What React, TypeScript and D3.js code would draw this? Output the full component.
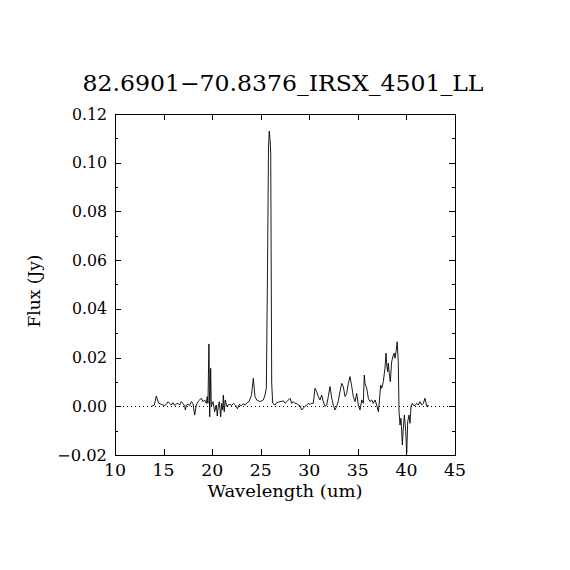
import { useRef, useEffect } from 'react'
import * as d3 from 'd3'

const title = '82.6901\u221270.8376_IRSX_4501_LL'
const xLabel = 'Wavelength (um)'
const yLabel = 'Flux (Jy)'

const xTicks = [10, 15, 20, 25, 30, 35, 40, 45]
const yTicks = [-0.02, 0, 0.02, 0.04, 0.06, 0.08, 0.1, 0.12]
const yMinorTicks = [-0.01, 0.01, 0.03, 0.05, 0.07, 0.09, 0.11]

const wavelength = [
  13.74, 14.05, 14.25, 14.5, 14.77, 14.94, 15.11, 15.28, 15.46, 15.63, 15.8, 15.97, 16.15, 16.31, 16.49, 16.66,
  16.83, 17.0, 17.18, 17.24, 17.34, 17.51, 17.69, 17.85, 18.03, 18.2, 18.37, 18.54, 18.72, 18.88, 19.06, 19.23,
  19.4, 19.5, 19.57, 19.67, 19.75, 19.85, 19.91, 20.09, 20.26, 20.43, 20.53, 20.63, 20.74, 20.88, 20.98, 21.09,
  21.15, 21.25, 21.35, 21.5, 21.66, 21.84, 22.01, 22.2, 22.4, 22.6, 22.8, 23.0, 23.2, 23.4, 23.6, 23.8,
  24.05, 24.24, 24.41, 24.59, 24.93, 25.27, 25.44, 25.58, 25.7, 25.8, 25.88, 25.97, 26.03, 26.13, 26.23, 26.47,
  26.65, 26.99, 27.33, 27.5, 27.68, 28.02, 28.19, 28.36, 28.53, 28.71, 28.87, 29.04, 29.22, 29.38, 29.56, 29.73,
  29.9, 30.07, 30.25, 30.41, 30.59, 30.76, 30.93, 31.1, 31.28, 31.44, 31.62, 31.79, 31.96, 32.13, 32.31, 32.47,
  32.65, 32.82, 32.99, 33.16, 33.34, 33.5, 33.68, 33.85, 34.02, 34.19, 34.37, 34.53, 34.71, 34.88, 35.05, 35.22,
  35.4, 35.56, 35.66, 35.74, 35.91, 36.08, 36.25, 36.43, 36.59, 36.77, 36.94, 37.11, 37.18, 37.35, 37.46, 37.62,
  37.79, 37.9, 37.97, 38.07, 38.13, 38.24, 38.34, 38.48, 38.65, 38.75, 38.82, 38.93, 39.05, 39.16, 39.24, 39.34,
  39.44, 39.58, 39.68, 39.79, 39.93, 40.03, 40.13, 40.27, 40.37, 40.47, 40.61, 40.71, 40.88, 41.05, 41.22, 41.4,
  41.57, 41.74, 41.91, 42.09, 42.19, 42.32,
]

const flux = [
  0.0, 0.0005, 0.0042, 0.0012, 0.0008, 0.0005, 0.0003, 0.0008, 0.0019, 0.0012, 0.0005, 0.0015, 0.0003, 0.001, 0.0012, 0.0005,
  0.0019, 0.0012, 0.0, -0.0015, 0.0005, 0.0008, 0.0003, 0.0019, 0.0012, -0.0036, 0.0005, 0.0019, 0.0026, 0.0033, 0.0019, 0.0026,
  0.0012, 0.004, 0.0012, 0.0256, -0.0043, 0.0156, 0.0, 0.0019, -0.0022, 0.0005, -0.004, 0.0, 0.0019, -0.0043, 0.0012, -0.0015,
  0.0046, -0.0022, 0.0026, 0.0, 0.0005, 0.0008, 0.0003, 0.0012, 0.0005, -0.001, 0.0008, 0.0002, 0.001, 0.0005, 0.0015, 0.002,
  0.0045, 0.0115, 0.004, 0.0026, 0.0019, 0.0026, 0.0046, 0.0075, 0.056, 0.106, 0.113, 0.109, 0.104, 0.0096, 0.0013, 0.0005,
  0.0015, 0.0019, 0.0022, 0.0012, 0.0019, 0.0033, 0.0012, 0.0019, 0.0012, 0.0012, 0.0005, 0.0003, -0.0015, -0.0008, 0.0, 0.0005,
  0.0012, 0.0008, 0.0012, 0.0012, 0.0074, 0.006, 0.004, 0.0026, 0.0046, 0.0019, 0.0, 0.0005, 0.004, 0.0081, 0.0033, 0.0005,
  -0.0015, 0.0, 0.0022, 0.006, 0.0094, 0.0081, 0.004, 0.0053, 0.0094, 0.0122, 0.0081, 0.004, 0.0019, 0.0053, 0.0005, -0.0015,
  0.0026, 0.0012, 0.0128, 0.0094, 0.0074, 0.0033, 0.0019, 0.0026, 0.0012, 0.0026, 0.0005, -0.0022, 0.0005, 0.0087, 0.0074, 0.0101,
  0.0156, 0.0218, 0.017, 0.0142, 0.0177, 0.0135, 0.0101, 0.0183, 0.0211, 0.0218, 0.0197, 0.0224, 0.0265, 0.0183, -0.0022, -0.0077,
  -0.0049, -0.0159, -0.009, -0.0036, -0.0104, -0.0193, -0.0063, -0.0036, -0.007, 0.0, 0.0012, 0.0005, 0.0003, 0.0012, 0.0005, 0.0019,
  0.0005, 0.0012, 0.0033, 0.0, 0.0005, 0.0,
]

const FONT = '"DejaVu Serif", "Liberation Serif", serif'

function SpectrumChart({ width = 570, height = 570 }: { width?: number; height?: number }) {
  const svgRef = useRef<SVGSVGElement>(null)

  useEffect(() => {
    if (!svgRef.current) return
    const svg = d3.select(svgRef.current)
    svg.selectAll('*').remove()

    const left = 115
    const right = 455
    const top = 114
    const bottom = 455

    const x = d3.scaleLinear().domain([10, 45]).range([left, right])
    const y = d3.scaleLinear().domain([-0.02, 0.12]).range([bottom, top])

    svg.append('rect').attr('width', width).attr('height', height).attr('fill', '#fff')

    // zero line, dotted
    svg.append('line')
      .attr('x1', left).attr('x2', right)
      .attr('y1', Math.round(y(0)) + 0.5).attr('y2', Math.round(y(0)) + 0.5)
      .attr('stroke', '#000')
      .attr('stroke-dasharray', '1,3')

    // spectrum
    const pts = wavelength.map((w, i) => [w, flux[i]] as [number, number])
    const line = d3.line<[number, number]>().x((d) => x(d[0])).y((d) => y(d[1]))
    svg.append('path')
      .attr('d', line(pts))
      .attr('fill', 'none')
      .attr('stroke', '#000')
      .attr('stroke-width', 0.9)

    // frame
    svg.append('rect')
      .attr('x', left + 0.5).attr('y', top + 0.5)
      .attr('width', right - left).attr('height', bottom - top)
      .attr('fill', 'none').attr('stroke', '#000')
      .attr('shape-rendering', 'crispEdges')

    const ticks = svg.append('g').attr('stroke', '#000').attr('shape-rendering', 'crispEdges')
    for (const t of xTicks) {
      const px = Math.round(x(t)) + 0.5
      ticks.append('line').attr('x1', px).attr('x2', px).attr('y1', bottom).attr('y2', bottom - 6)
      ticks.append('line').attr('x1', px).attr('x2', px).attr('y1', top).attr('y2', top + 6)
    }
    for (const t of yTicks) {
      const py = Math.round(y(t)) + 0.5
      ticks.append('line').attr('x1', left).attr('x2', left + 6).attr('y1', py).attr('y2', py)
      ticks.append('line').attr('x1', right).attr('x2', right - 6).attr('y1', py).attr('y2', py)
    }
    for (const t of yMinorTicks) {
      const py = Math.round(y(t)) + 0.5
      ticks.append('line').attr('x1', left).attr('x2', left + 3).attr('y1', py).attr('y2', py)
      ticks.append('line').attr('x1', right).attr('x2', right - 3).attr('y1', py).attr('y2', py)
    }

    const fmt = d3.format('.2f')
    svg.append('g')
      .selectAll('text')
      .data(xTicks)
      .join('text')
      .attr('x', (d) => x(d))
      .attr('y', bottom + 21)
      .attr('text-anchor', 'middle')
      .attr('font-family', FONT)
      .attr('font-size', 16)
      .attr('textLength', 22)
      .attr('lengthAdjust', 'spacingAndGlyphs')
      .text((d) => String(d))

    svg.append('g')
      .selectAll('text')
      .data(yTicks)
      .join('text')
      .attr('x', left - 8)
      .attr('y', (d) => y(d) + 5.5)
      .attr('text-anchor', 'end')
      .attr('font-family', FONT)
      .attr('font-size', 16)
      .attr('textLength', (d) => (d < 0 ? 50 : 35))
      .attr('lengthAdjust', 'spacingAndGlyphs')
      .text((d) => fmt(d))

    svg.append('text')
      .attr('x', 285)
      .attr('y', 497)
      .attr('text-anchor', 'middle')
      .attr('font-family', FONT)
      .attr('font-size', 16)
      .attr('textLength', 155)
      .attr('lengthAdjust', 'spacingAndGlyphs')
      .text(xLabel)

    svg.append('text')
      .attr('transform', `translate(40,291) rotate(-90)`)
      .attr('text-anchor', 'middle')
      .attr('font-family', FONT)
      .attr('font-size', 16)
      .attr('textLength', 73)
      .attr('lengthAdjust', 'spacingAndGlyphs')
      .text(yLabel)

    svg.append('text')
      .attr('x', 283)
      .attr('y', 91)
      .attr('text-anchor', 'middle')
      .attr('font-family', FONT)
      .attr('font-size', 22)
      .attr('textLength', 401)
      .attr('lengthAdjust', 'spacingAndGlyphs')
      .text(title)
  }, [width, height])

  return <svg ref={svgRef} width={width} height={height} style={{ position: 'absolute', left: 0, top: 0 }} />
}

export default function App() {
  return <SpectrumChart />
}
